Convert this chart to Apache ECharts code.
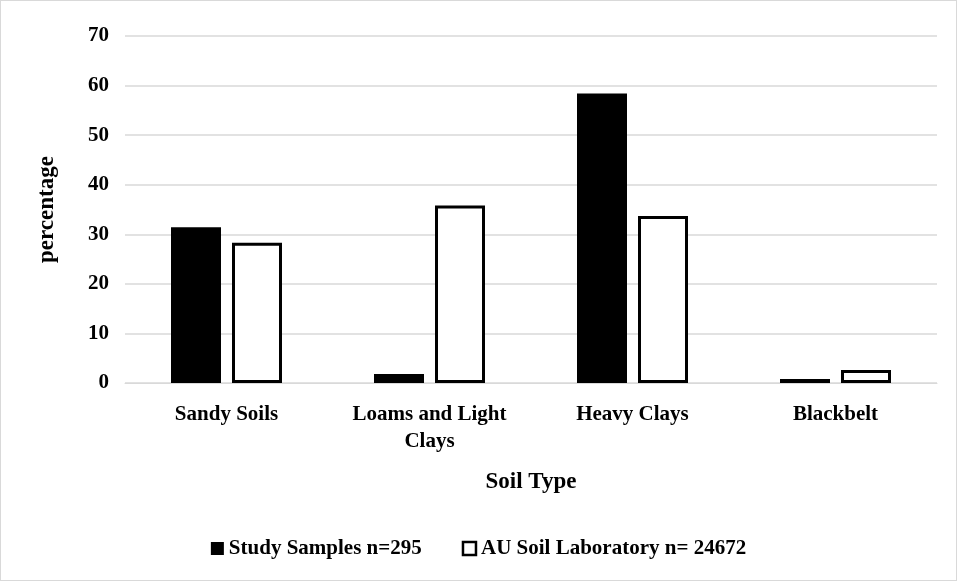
<!DOCTYPE html><html><head><meta charset="utf-8"><script src="https://cdn.jsdelivr.net/npm/echarts@6/dist/echarts.min.js"></script>
<style>html,body{margin:0;padding:0;background:#fff}#c{width:957px;height:581px;box-sizing:border-box;border:1px solid #d9d9d9}</style></head><body><div id="c"></div><script>
const categories=['Sandy Soils','Loams and Light\nClays','Heavy Clays','Blackbelt'];
const studySamples=[31.4,1.8,58.4,0.8];
const auSoilLab=[28.3,35.8,33.7,2.6];
const font='"Liberation Serif","Times New Roman",serif';
const ch=echarts.init(document.getElementById('c'));
ch.setOption({
 textStyle:{fontFamily:font},
 grid:{left:124,right:19,top:35,bottom:197},
 legend:{bottom:16,left:'center',itemGap:40,itemWidth:13,itemHeight:13,itemTextGap:4,icon:'rect',
  textStyle:{fontFamily:font,fontWeight:'bold',fontSize:21,color:'#000'},
  data:[{name:'Study Samples n=295'},{name:'AU Soil Laboratory n= 24672',itemStyle:{borderWidth:2.5}}]},
 xAxis:{type:'category',data:categories,name:'Soil Type',nameLocation:'middle',nameGap:88,
  nameTextStyle:{fontFamily:font,fontWeight:'bold',fontSize:23,color:'#000'},
  axisLine:{lineStyle:{color:'#d9d9d9'}},axisTick:{show:false},
  axisLabel:{interval:0,fontFamily:font,fontWeight:'bold',fontSize:21,color:'#000',margin:18,lineHeight:27}},
 yAxis:{type:'value',min:0,max:70,interval:10,name:'percentage',nameLocation:'middle',nameGap:66,
  nameTextStyle:{fontFamily:font,fontWeight:'bold',fontSize:23,color:'#000'},
  axisLabel:{fontFamily:font,fontWeight:'bold',fontSize:21,color:'#000',margin:16},
  splitLine:{lineStyle:{color:'#d9d9d9',width:1.5}},axisLine:{show:false}},
 series:[
  {name:'Study Samples n=295',type:'bar',data:studySamples,barWidth:50,barGap:'22%',itemStyle:{color:'#000'}},
  {name:'AU Soil Laboratory n= 24672',type:'bar',data:auSoilLab,barWidth:50,itemStyle:{color:'#fff',borderColor:'#000',borderWidth:3}}
 ]
});
</script></body></html>
